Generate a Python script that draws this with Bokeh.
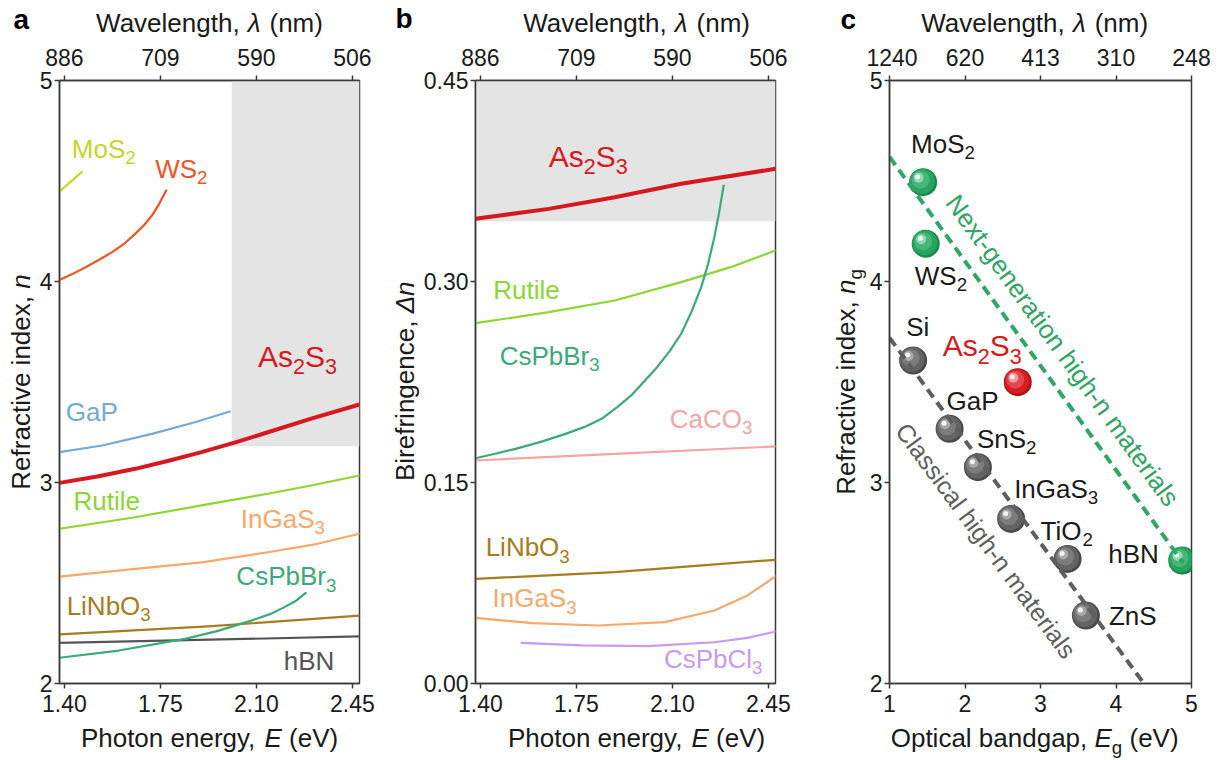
import math
from bokeh.plotting import figure
from bokeh.models import Range1d, LinearAxis, FixedTicker, Label, BoxAnnotation
from bokeh.layouts import row, column
from bokeh.embed import file_html
from bokeh.resources import INLINE

# ---------------- data ----------------
E_TICKS = [1.40, 1.75, 2.10, 2.45]
E_TICK_LABELS = ["1.40", "1.75", "2.10", "2.45"]
WL_TICK_LABELS = ["886", "709", "590", "506"]
N_TICKS = [2, 3, 4, 5]
N_TICK_LABELS = ["2", "3", "4", "5"]
DN_TICKS = [0.0, 0.15, 0.30, 0.45]
DN_TICK_LABELS = ["0.00", "0.15", "0.30", "0.45"]
EG_TICKS = [1, 2, 3, 4, 5]
EG_TICK_LABELS = ["1", "2", "3", "4", "5"]
WL_C_TICK_LABELS = ["1240", "620", "413", "310", "248"]

# panel a: refractive index n vs photon energy E (eV)
A_MOS2_E = [1.382, 1.463]
A_MOS2_N = [4.448, 4.544]
A_WS2_E = [1.382, 1.430, 1.477, 1.525, 1.574, 1.620, 1.658, 1.690, 1.719, 1.745, 1.771]
A_WS2_N = [4.008, 4.038, 4.071, 4.107, 4.146, 4.190, 4.237, 4.280, 4.328, 4.385, 4.453]
A_GAP_E = [1.382, 1.538, 1.719, 1.876, 2.003]
A_GAP_N = [3.151, 3.184, 3.242, 3.300, 3.353]
A_AS2S3_E = [1.382, 1.520, 1.658, 1.780, 1.900, 2.020, 2.142, 2.300, 2.476]
A_AS2S3_N = [2.998, 3.030, 3.068, 3.108, 3.151, 3.198, 3.250, 3.318, 3.388]
A_RUTILE_E = [1.382, 1.658, 1.900, 2.142, 2.300, 2.476]
A_RUTILE_N = [2.770, 2.827, 2.886, 2.944, 2.985, 3.035]
A_INGAS3_E = [1.382, 1.658, 1.900, 2.142, 2.323, 2.476]
A_INGAS3_N = [2.532, 2.570, 2.603, 2.653, 2.695, 2.745]
A_CSPBBR3_E = [1.382, 1.598, 1.840, 1.960, 2.081, 2.150, 2.202, 2.245, 2.280]
A_CSPBBR3_N = [2.128, 2.164, 2.222, 2.262, 2.313, 2.345, 2.380, 2.412, 2.451]
A_LINBO3_E = [1.382, 1.924, 2.476]
A_LINBO3_N = [2.244, 2.284, 2.338]
A_HBN_E = [1.382, 2.476]
A_HBN_N = [2.202, 2.234]
A_BOX_E0 = 2.01   # shaded region (E >= , n >=)
A_BOX_N0 = 3.18

# panel b: birefringence dn vs photon energy E (eV)
B_AS2S3_E = [1.382, 1.649, 1.890, 2.132, 2.476]
B_AS2S3_DN = [0.3468, 0.3542, 0.3629, 0.3729, 0.3841]
B_RUTILE_E = [1.382, 1.649, 1.890, 2.132, 2.313, 2.476]
B_RUTILE_DN = [0.2689, 0.2771, 0.2858, 0.2995, 0.3107, 0.3231]
B_CSPBBR3_E = [1.382, 1.450, 1.528, 1.620, 1.710, 1.780, 1.842, 1.900, 1.950, 2.000, 2.040,
               2.090, 2.132, 2.170, 2.205, 2.230, 2.253, 2.270, 2.287]
B_CSPBBR3_DN = [0.1681, 0.1713, 0.1751, 0.1803, 0.1863, 0.1915, 0.1975, 0.2065, 0.2150, 0.2261,
                0.2350, 0.2480, 0.2610, 0.2775, 0.2958, 0.3130, 0.3331, 0.3510, 0.3716]
B_CACO3_E = [1.382, 1.930, 2.476]
B_CACO3_DN = [0.1664, 0.1718, 0.1769]
B_LINBO3_E = [1.382, 1.890, 2.476]
B_LINBO3_DN = [0.0781, 0.0831, 0.0923]
B_INGAS3_E = [1.382, 1.589, 1.830, 2.072, 2.253, 2.374, 2.476]
B_INGAS3_DN = [0.0490, 0.0450, 0.0433, 0.0458, 0.0545, 0.0657, 0.0799]
B_CSPBCL3_E = [1.550, 1.770, 2.011, 2.253, 2.374, 2.476]
B_CSPBCL3_DN = [0.0303, 0.0284, 0.0279, 0.0308, 0.0341, 0.0388]
B_BOX_DN0 = 0.345

# panel c: n_g vs optical bandgap Eg (eV)
C_NEXT_NAMES = ["MoS2", "WS2", "hBN"]
C_NEXT_EG = [1.445, 1.480, 4.877]
C_NEXT_NG = [4.494, 4.188, 2.612]
C_CLASS_NAMES = ["Si", "GaP", "SnS2", "InGaS3", "TiO2", "ZnS"]
C_CLASS_EG = [1.313, 1.796, 2.171, 2.611, 3.359, 3.601]
C_CLASS_NG = [3.607, 3.267, 3.076, 2.819, 2.620, 2.338]
C_AS2S3_EG = [2.699]
C_AS2S3_NG = [3.499]
C_NEXT_LINE_EG = [1.0, 4.89]
C_NEXT_LINE_NG = [4.62, 2.60]
C_CLASS_LINE_EG = [1.0, 4.37]
C_CLASS_LINE_NG = [3.72, 2.00]

# ---------------- styling ----------------
FONT = "Liberation Sans"
TXT = "#1a1a1a"
AX = "#3a3a3a"
C_MOS2 = "#c6d42a"
C_WS2 = "#f0561f"
C_AS = "#d7191f"
C_GAP = "#74a9d8"
C_RUT = "#8cd632"
C_INGA = "#f8a86a"
C_CSBR = "#3aaa78"
C_LINB = "#a67c1e"
C_HBN = "#555555"
C_CACO = "#f5a5a5"
C_CSCL = "#c49bf5"
C_GREEN = "#2fa566"
C_GRAYL = "#5e5e5e"

AW = {' ': 278, ',': 278, '.': 278, '-': 333, '(': 333, ')': 333, 'Δ': 612, 'λ': 556,
      'A': 667, 'B': 667, 'C': 722, 'D': 722, 'E': 667, 'F': 611, 'G': 778, 'H': 722, 'I': 278,
      'L': 556, 'M': 833, 'N': 722, 'O': 778, 'P': 667, 'R': 722, 'S': 667, 'T': 611, 'V': 667,
      'W': 944, 'Z': 611,
      'a': 556, 'b': 556, 'c': 500, 'd': 556, 'e': 556, 'f': 278, 'g': 556, 'h': 556, 'i': 222,
      'l': 222, 'm': 833, 'n': 556, 'o': 556, 'p': 556, 'r': 333, 's': 500, 't': 278, 'u': 556,
      'v': 500, 'w': 722, 'x': 500, 'y': 500, 'z': 500}
SUB_SCALE = 0.72
SUB_DROP = 0.25
BASE_FIX = 0.31   # compensates the renderer's baseline placement (fraction of font size)


def text_w(s, size):
    return sum(AW.get(c, 556) for c in s) * size / 1000.0


def rich(p, x, y, parts, size, color, align="left", angle=0.0, bx=0.0, by=0.0, bold=False):
    sizes = [size * SUB_SCALE if st == "sub" else size for _, st in parts]
    widths = [text_w(t, fs) for (t, _), fs in zip(parts, sizes)]
    total = sum(widths)
    d = {"left": 0.0, "center": -total / 2.0, "right": -total}[align]
    ca, sa = math.cos(angle), math.sin(angle)
    for (t, st), fs, w in zip(parts, sizes, widths):
        lead = text_w(t[:len(t) - len(t.lstrip(' '))], fs)
        shown = t.strip(' ')
        drop = size * SUB_DROP if st == "sub" else 0.0
        up = BASE_FIX * fs
        dd = d + lead
        ox = bx + dd * ca + drop * sa - up * sa
        oy = by + dd * sa - drop * ca + up * ca
        style = "italic" if st == "i" else ("bold" if bold else "normal")
        if shown:
            p.add_layout(Label(x=x, y=y, x_offset=ox, y_offset=oy,
                               text=shown, angle=angle, text_font=FONT, text_font_size=f"{fs:.1f}px",
                               text_font_style=style, text_color=color, text_align="left",
                               text_baseline="alphabetic"))
        d += w


def style_axis(ax, ticks, labels, standoff):
    ax.ticker = FixedTicker(ticks=ticks)
    ax.major_label_overrides = {t: l for t, l in zip(ticks, labels)}
    ax.axis_line_color = AX
    ax.axis_line_width = 1.5
    ax.major_tick_line_color = AX
    ax.major_tick_line_width = 1.5
    ax.major_tick_out = 5
    ax.major_tick_in = 0
    ax.minor_tick_line_color = None
    ax.major_label_text_font = FONT
    ax.major_label_text_font_size = "23px"
    ax.major_label_text_color = TXT
    ax.major_label_standoff = standoff
    ax.axis_label = None


TOP_H = 38
BOT_H = 35
MAIN_TOP = 42
MAIN_BOT = 40
FRAME_H = 603
MAIN_H = MAIN_TOP + FRAME_H + MAIN_BOT
TOTAL_H = TOP_H + MAIN_H + BOT_H


def make_fig(xr, yr, width, left, right, xticks, xlabels, toplabels, yticks, ylabels):
    p = figure(width=width, height=MAIN_H, x_range=Range1d(*xr), y_range=Range1d(*yr),
               output_backend="svg", toolbar_location=None, title=None,
               min_border_left=left, min_border_right=right, min_border_top=MAIN_TOP,
               min_border_bottom=MAIN_BOT)
    p.grid.visible = False
    p.outline_line_color = AX
    p.outline_line_width = 1.5
    p.background_fill_color = "white"
    p.border_fill_color = "white"
    style_axis(p.xaxis[0], xticks, xlabels, 6)
    style_axis(p.yaxis[0], yticks, ylabels, 2)
    top = LinearAxis()
    style_axis(top, xticks, toplabels, 10)
    p.add_layout(top, "above")
    return p


def strip(w, h):
    s = figure(width=w, height=h, x_range=Range1d(0, w), y_range=Range1d(0, h),
               x_axis_location=None, y_axis_location=None, output_backend="svg",
               toolbar_location=None, title=None, min_border=0, outline_line_color=None)
    s.grid.visible = False
    s.background_fill_color = "white"
    s.border_fill_color = "white"
    return s


# ---------------- panel a ----------------
pa = make_fig((1.382, 2.476), (2, 5), 344, 21, 21, E_TICKS, E_TICK_LABELS, WL_TICK_LABELS,
              N_TICKS, N_TICK_LABELS)
pa.add_layout(BoxAnnotation(left=A_BOX_E0, bottom=A_BOX_N0, fill_color="#e4e4e4", fill_alpha=1.0,
                            line_color=None, level="underlay"))
for xs, ys, c, w in [(A_HBN_E, A_HBN_N, C_HBN, 2.2), (A_LINBO3_E, A_LINBO3_N, C_LINB, 2.2),
                     (A_CSPBBR3_E, A_CSPBBR3_N, C_CSBR, 2.2), (A_INGAS3_E, A_INGAS3_N, C_INGA, 2.2),
                     (A_RUTILE_E, A_RUTILE_N, C_RUT, 2.2), (A_GAP_E, A_GAP_N, C_GAP, 2.2),
                     (A_WS2_E, A_WS2_N, C_WS2, 2.2), (A_MOS2_E, A_MOS2_N, C_MOS2, 2.2),
                     (A_AS2S3_E, A_AS2S3_N, C_AS, 4.0)]:
    pa.line(xs, ys, line_color=c, line_width=w, line_cap="round", line_join="round")

LABELS_A = [
    ([("MoS", ""), ("2", "sub")], 1.427, 4.618, C_MOS2, 26),
    ([("WS", ""), ("2", "sub")], 1.731, 4.519, C_WS2, 26),
    ([("As", ""), ("2", "sub"), ("S", ""), ("3", "sub")], 2.106, 3.582, C_AS, 30),
    ([("GaP", "")], 1.405, 3.312, C_GAP, 26),
    ([("Rutile", "")], 1.433, 2.869, C_RUT, 26),
    ([("InGaS", ""), ("3", "sub")], 2.043, 2.778, C_INGA, 26),
    ([("CsPbBr", ""), ("3", "sub")], 2.027, 2.493, C_CSBR, 26),
    ([("LiNbO", ""), ("3", "sub")], 1.408, 2.347, C_LINB, 26),
    ([("hBN", "")], 2.200, 2.073, C_HBN, 26),
]
for parts, x, y, c, s in LABELS_A:
    rich(pa, x, y, parts, s, c)

# ---------------- panel b ----------------
pb = make_fig((1.382, 2.476), (0, 0.45), 380, 53, 25, E_TICKS, E_TICK_LABELS, WL_TICK_LABELS,
              DN_TICKS, DN_TICK_LABELS)
pb.add_layout(BoxAnnotation(bottom=B_BOX_DN0, fill_color="#e4e4e4", fill_alpha=1.0,
                            line_color=None, level="underlay"))
for xs, ys, c, w in [(B_CSPBCL3_E, B_CSPBCL3_DN, C_CSCL, 2.2), (B_INGAS3_E, B_INGAS3_DN, C_INGA, 2.2),
                     (B_LINBO3_E, B_LINBO3_DN, C_LINB, 2.2), (B_CACO3_E, B_CACO3_DN, C_CACO, 2.2),
                     (B_RUTILE_E, B_RUTILE_DN, C_RUT, 2.2), (B_CSPBBR3_E, B_CSPBBR3_DN, C_CSBR, 2.2),
                     (B_AS2S3_E, B_AS2S3_DN, C_AS, 4.0)]:
    pb.line(xs, ys, line_color=c, line_width=w, line_cap="round", line_join="round")

LABELS_B = [
    ([("As", ""), ("2", "sub"), ("S", ""), ("3", "sub")], 1.649, 0.3866, C_AS, 30),
    ([("Rutile", "")], 1.447, 0.2875, C_RUT, 26),
    ([("CsPbBr", ""), ("3", "sub")], 1.470, 0.2386, C_CSBR, 26),
    ([("CaCO", ""), ("3", "sub")], 2.090, 0.1913, C_CACO, 26),
    ([("LiNbO", ""), ("3", "sub")], 1.419, 0.0955, C_LINB, 26),
    ([("InGaS", ""), ("3", "sub")], 1.444, 0.0575, C_INGA, 26),
    ([("CsPbCl", ""), ("3", "sub")], 2.069, 0.0122, C_CSCL, 26),
]
for parts, x, y, c, s in LABELS_B:
    rich(pb, x, y, parts, s, c)

# ---------------- panel c ----------------
pc = make_fig((1, 5), (2, 5), 361, 22, 36, EG_TICKS, EG_TICK_LABELS, WL_C_TICK_LABELS,
              N_TICKS, N_TICK_LABELS)
PXX = 303 / 4.0
PXY = FRAME_H / 3.0
SPHERE_SIZES = [28, 25, 18, 10, 5]
SPHERE_SHIFT = [0.0, 1.0, 2.5, 4.5, 5.5]
PAL_GRAY = ["#4a4a4a", "#646464", "#7c7c7c", "#a9a9a9", "#f2f2f2"]
PAL_GREEN = ["#1a8a4b", "#28a461", "#45b878", "#92d8b0", "#f4fff9"]
PAL_RED = ["#b50f18", "#d61c25", "#e3464d", "#f29b9e", "#fff2f2"]


def spheres(p, xs, ys, pal):
    for sz, sh, col in zip(SPHERE_SIZES, SPHERE_SHIFT, pal):
        p.scatter([x - sh / PXX for x in xs], [y + sh / PXY for y in ys], size=sz,
                  marker="circle", fill_color=col, line_color=None)


spheres(pc, C_CLASS_EG, C_CLASS_NG, PAL_GRAY)
spheres(pc, C_NEXT_EG, C_NEXT_NG, PAL_GREEN)
spheres(pc, C_AS2S3_EG, C_AS2S3_NG, PAL_RED)
pc.line(C_NEXT_LINE_EG, C_NEXT_LINE_NG, line_color=C_GREEN, line_width=4, line_dash="10 6")
pc.line(C_CLASS_LINE_EG, C_CLASS_LINE_NG, line_color=C_GRAYL, line_width=4, line_dash="10 6")

LABEL_PARTS_C = {
    "MoS2": [("MoS", ""), ("2", "sub")], "WS2": [("WS", ""), ("2", "sub")], "hBN": [("hBN", "")],
    "Si": [("Si", "")], "GaP": [("GaP", "")], "SnS2": [("SnS", ""), ("2", "sub")],
    "InGaS3": [("InGaS", ""), ("3", "sub")], "TiO2": [("TiO", ""), ("2", "sub")], "ZnS": [("ZnS", "")],
}
LABEL_OFFS_C = {"MoS2": (-12, 30), "WS2": (-11, -40), "hBN": (-74, -2), "Si": (-7, 25),
                "GaP": (-3, 20), "SnS2": (-1, 20), "InGaS3": (3, 22), "TiO2": (-27, 20), "ZnS": (23, -8)}
for names, xs, ys in [(C_NEXT_NAMES, C_NEXT_EG, C_NEXT_NG), (C_CLASS_NAMES, C_CLASS_EG, C_CLASS_NG)]:
    for nm, x, y in zip(names, xs, ys):
        ox, oy = LABEL_OFFS_C[nm]
        rich(pc, x, y, LABEL_PARTS_C[nm], 26, TXT, bx=ox, by=oy)
rich(pc, C_AS2S3_EG[0], C_AS2S3_NG[0], [("As", ""), ("2", "sub"), ("S", ""), ("3", "sub")], 30, C_AS,
     bx=-75, by=27)

ang_next = -math.atan2((C_NEXT_LINE_NG[0] - C_NEXT_LINE_NG[1]) * PXY,
                       (C_NEXT_LINE_EG[1] - C_NEXT_LINE_EG[0]) * PXX)
ang_class = -math.atan2((C_CLASS_LINE_NG[0] - C_CLASS_LINE_NG[1]) * PXY,
                        (C_CLASS_LINE_EG[1] - C_CLASS_LINE_EG[0]) * PXX)
pc.add_layout(Label(x=3.293, y=3.657, text="Next-generation high-n materials", angle=ang_next,
                    text_font=FONT, text_font_size="26px", text_color=C_GREEN,
                    text_align="center", text_baseline="middle"))
pc.add_layout(Label(x=2.280, y=2.711, text="Classical high-n materials", angle=ang_class,
                    text_font=FONT, text_font_size="25px", text_color=C_GRAYL,
                    text_align="center", text_baseline="middle"))

# ---------------- title strips (axis titles & panel letters) ----------------
HALF_PI = math.pi / 2
E_TITLE = [("Photon energy, ", ""), ("E", "i"), (" (eV)", "")]
WL_TITLE = [("Wavelength, ", ""), ("λ", "i"), (" (nm)", "")]
EG_TITLE = [("Optical bandgap, ", ""), ("E", "i"), ("g", "sub"), (" (eV)", "")]

cols = []
for p, fig_w, left_b, left_w, bottom_title, y_title, y_base, letter, lpos in [
        (pa, 344, 21, 36, E_TITLE, [("Refractive index, ", ""), ("n", "i")], 29, "a", (13, 730)),
        (pb, 380, 53, 40, E_TITLE, [("Birefringence, ", ""), ("Δn", "i")], 33, "b", (15, 731)),
        (pc, 361, 22, 66, EG_TITLE, [("Refractive index, ", ""), ("n", "i"), ("g", "sub")], 54, "c",
         (40, 730))]:
    fw = 303 if p is pc else 302
    cx = left_b + fw / 2.0
    top_s = strip(fig_w, TOP_H)
    rich(top_s, cx, TOP_H - 31, WL_TITLE, 26, TXT, align="center")
    bot_s = strip(fig_w, BOT_H)
    rich(bot_s, cx, BOT_H - 23, bottom_title, 26, TXT, align="center")
    left_s = strip(left_w, TOTAL_H)
    rich(left_s, y_base, TOTAL_H - (TOP_H + MAIN_TOP + FRAME_H / 2.0), y_title, 26, TXT,
         align="center", angle=HALF_PI)
    rich(left_s, lpos[0], lpos[1], [(letter, "")], 28, "black", bold=True)
    cols.append(left_s)
    cols.append(column(top_s, p, bot_s, spacing=0))

layout = row(*cols, spacing=0)
open("out.html", "w").write(file_html(layout, INLINE))
